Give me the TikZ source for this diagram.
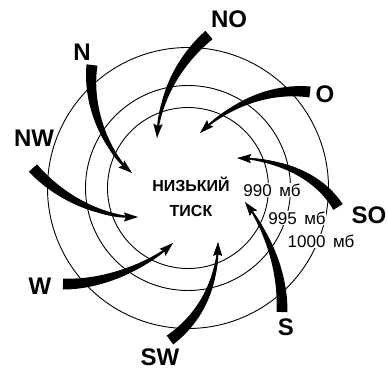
\documentclass[tikz,border=0pt]{standalone}
\usepackage{fontspec}
\setmainfont{Liberation Sans}
\usetikzlibrary{arrows.meta,calc}

\tikzset{
  isobar/.style={line width=0.9pt},
  isolabel/.style={fill=white, inner sep=0.6pt, font=\fontsize{17}{17}\selectfont},
  windlabel/.style={font=\bfseries\fontsize{24}{24}\selectfont, inner sep=0pt},
  windshaft/.style={line width=1.3pt, -{Stealth[length=14pt,width=9pt,inset=2pt]}},
}

\begin{document}
\begin{tikzpicture}[x=1pt, y=-1pt]
  \useasboundingbox (0,0) rectangle (388,373);

  % isobars
  \coordinate (C) at (188,188);
  \foreach \r in {80.5,102.5,140.5}
    \draw[isobar] (C) circle (\r pt);

  \node[isolabel] (p990) at (272,190) {990 \,мб};
  \node[isolabel] (p995) at (297,218) {995 \,мб};
  \node[isolabel] (p1000) at (321,241) {1000 \,мб};

  % winds: start, two controls, tip
  \coordinate (NO-s) at (209,35);  \coordinate (NO-a) at (180,60);
  \coordinate (NO-b) at (160,95);  \coordinate (NO-e) at (157,138);
  \coordinate (N-s) at (92,65);    \coordinate (N-a) at (87,105);
  \coordinate (N-b) at (105,150);  \coordinate (N-e) at (132,173);
  \coordinate (NW-s) at (33,168);  \coordinate (NW-a) at (55,193);
  \coordinate (NW-b) at (95,217);  \coordinate (NW-e) at (138,217);
  \coordinate (W-s) at (63,284);   \coordinate (W-a) at (100,285);
  \coordinate (W-b) at (145,268);  \coordinate (W-e) at (173,243);
  \coordinate (SW-s) at (170,340); \coordinate (SW-a) at (200,318);
  \coordinate (SW-b) at (217,285); \coordinate (SW-e) at (218,242);
  \coordinate (S-s) at (282,312);  \coordinate (S-a) at (283,275);
  \coordinate (S-b) at (270,235);  \coordinate (S-e) at (245,202);
  \coordinate (SO-s) at (338,207); \coordinate (SO-a) at (320,178);
  \coordinate (SO-b) at (285,160); \coordinate (SO-e) at (237,158);
  \coordinate (O-s) at (310,92);   \coordinate (O-a) at (275,88);
  \coordinate (O-b) at (235,100);  \coordinate (O-e) at (200,133);

  \foreach \w in {NO,N,NW,W,SW,S,SO,O} {
    \fill ($(\w-s)!5.5pt!90:(\w-a)$)
      .. controls ($(\w-a)!5pt!90:(\w-b)$) and ($(\w-b)!2.5pt!90:(\w-e)$) .. (\w-e)
      .. controls ($(\w-b)!2.5pt!-90:(\w-e)$) and ($(\w-a)!5pt!-90:(\w-b)$) .. ($(\w-s)!5.5pt!-90:(\w-a)$)
      -- cycle;
    \draw[windshaft] (\w-s) .. controls (\w-a) and (\w-b) .. (\w-e);
  }

  % direction labels
  \node[windlabel] (lNO) at (229,19) {NO};
  \node[windlabel] (lN) at (82,52) {N};
  \node[windlabel] (lNW) at (34,138) {NW};
  \node[windlabel] (lW) at (40,286) {W};
  \node[windlabel] (lSW) at (160,357) {SW};
  \node[windlabel] (lS) at (286,327) {S};
  \node[windlabel] (lSO) at (369,215) {SO};
  \node[windlabel] (lO) at (325,94) {O};

  \node[align=center, font=\bfseries\fontsize{16}{25}\selectfont] (low) at (191,197) {НИЗЬКИЙ\\ТИСК};
\end{tikzpicture}
\end{document}
